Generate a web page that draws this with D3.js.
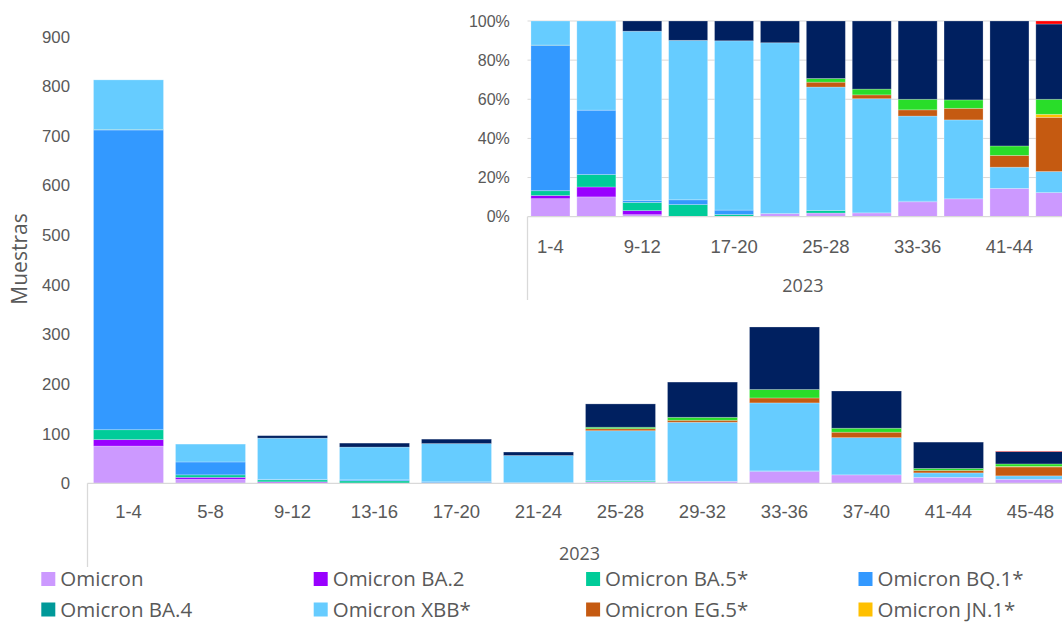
<!DOCTYPE html>
<html>
<head>
<meta charset="utf-8">
<script src="https://cdn.jsdelivr.net/npm/d3@7"></script>
<style>
    body { margin: 0; background: #fff; }
    svg { display: block; font-family: 'Open Sans', 'Noto Sans', sans-serif; }
    .lbl { fill: #595959; }
</style>
</head>
<body>
<svg id="chart" width="1062" height="624"></svg>
<script>
// semanas epidemiologicas agrupadas de 4 en 4
let categories = ['1-4', '5-8', '9-12', '13-16', '17-20', '21-24', '25-28', '29-32', '33-36', '37-40', '41-44', '45-48'];
let yearLabel = '2023';

// muestras por variante
let omicron  = [75, 8, 1, 0, 0, 1, 3, 4, 24, 17, 12, 8];
let ba2      = [13, 4, 2, 0, 0, 0, 0, 0, 0, 0, 0, 0];
let ba5      = [20, 5, 4, 5, 1, 0, 2, 0, 0, 0, 0, 0];
let bq1      = [604, 26, 1, 2, 2, 0, 0, 0, 1, 0, 0, 0];
let ba4      = [1, 0, 0, 0, 0, 0, 0, 0, 0, 0, 0, 0];
let xbb      = [100, 36, 83, 66, 77, 55, 101, 119, 137, 75, 9, 7];
let eg5      = [0, 0, 0, 0, 0, 0, 4, 4, 10, 11, 5, 18];
let jn1      = [0, 0, 0, 0, 0, 0, 0, 0, 0, 0, 0, 1];
let xbb116   = [0, 0, 0, 0, 0, 0, 3, 6, 17, 8, 4, 5];
let xbb19    = [0, 0, 5, 8, 9, 7, 47, 71, 126, 75, 53, 25];
let ba286    = [0, 0, 0, 0, 0, 0, 0, 0, 0, 0, 0, 1];

let seriesNames = ['Omicron', 'Omicron BA.2', 'Omicron BA.5*', 'Omicron BQ.1*', 'Omicron BA.4', 'Omicron XBB*',
    'Omicron EG.5*', 'Omicron JN.1*', 'Omicron XBB.1.16*', 'Omicron XBB.1.9*', 'Omicron BA.2.86*'];
let seriesValues = [omicron, ba2, ba5, bq1, ba4, xbb, eg5, jn1, xbb116, xbb19, ba286];
let seriesColors = ['#CC99FF', '#9900FF', '#00CC99', '#3399FF', '#009999', '#66CCFF',
    '#C55A11', '#FFC000', '#29DD29', '#002060', '#FF0000'];

let mainTicks = [0, 100, 200, 300, 400, 500, 600, 700, 800, 900];
let insetTicks = [0, 0.2, 0.4, 0.6, 0.8, 1];

// tabla para d3.stack
let rows = categories.map((c, i) => {
    let r = { cat: c };
    seriesNames.forEach((s, j) => { r[s] = seriesValues[j][i]; });
    return r;
});
let color = d3.scaleOrdinal().domain(seriesNames).range(seriesColors);

let svg = d3.select('#chart');

// ---------- grafico principal (muestras) ----------
let x = d3.scaleBand().domain(categories).range([87.5, 1071.5]).paddingInner(12 / 82).paddingOuter(6 / 82);
let y = d3.scaleLinear().domain([0, 900]).range([483.3, 36.7]);

let stacked = d3.stack().keys(seriesNames)(rows);

let main = svg.append('g');
main.selectAll('g.layer')
    .data(stacked)
    .enter()
    .append('g')
    .attr('class', 'layer')
    .attr('fill', d => color(d.key))
    .selectAll('rect')
    .data(d => d.filter(p => p[1] - p[0] > 0))
    .enter()
    .append('rect')
    .attr('x', d => x(d.data.cat))
    .attr('width', x.bandwidth())
    .attr('y', d => y(d[1]))
    .attr('height', d => y(d[0]) - y(d[1]))
    .attr('stroke', '#fff')
    .attr('stroke-opacity', 0.3)
    .attr('stroke-width', 0.8);

let yAxis = main.append('g')
    .attr('transform', 'translate(87.5,0)')
    .call(d3.axisLeft(y).tickValues(mainTicks).tickSize(0).tickPadding(17.5));
yAxis.select('.domain').remove();
yAxis.selectAll('text').attr('class', 'lbl').style('font-size', '16.8px').style('font-family', null);

let xAxis = main.append('g')
    .attr('transform', 'translate(0,483.3)')
    .call(d3.axisBottom(x).tickSize(0).tickPadding(22));
xAxis.select('.domain').remove();
xAxis.selectAll('text').attr('class', 'lbl').style('font-size', '18.5px').style('font-family', null);

main.append('line')
    .attr('x1', 87.5).attr('x2', 1062)
    .attr('y1', 483.3).attr('y2', 483.3)
    .attr('stroke', '#D9D9D9').attr('stroke-width', 1.3);
main.append('line')
    .attr('x1', 87.5).attr('x2', 87.5)
    .attr('y1', 483.3).attr('y2', 567)
    .attr('stroke', '#D9D9D9').attr('stroke-width', 1.3);

main.append('text')
    .attr('class', 'lbl')
    .attr('x', (x.range()[0] + x.range()[1]) / 2)
    .attr('y', 553.3)
    .attr('dy', '0.35em')
    .attr('text-anchor', 'middle')
    .style('font-size', '18px')
    .text(yearLabel);

main.append('text')
    .attr('class', 'lbl')
    .attr('transform', 'translate(20,259) rotate(-90)')
    .attr('dy', '0.35em')
    .attr('text-anchor', 'middle')
    .style('font-size', '21px')
    .text('Muestras');

// ---------- recuadro (porcentaje) ----------
let x2 = d3.scaleBand().domain(categories).range([527.5, 1078.3]).paddingInner(0.15).paddingOuter(0.075);
let y2 = d3.scaleLinear().domain([0, 1]).range([216.7, 21]);

let inset = svg.append('g');

inset.selectAll('line.grid')
    .data(insetTicks.slice(1))
    .enter()
    .append('line')
    .attr('class', 'grid')
    .attr('x1', 527.5).attr('x2', 1062)
    .attr('y1', d => y2(d)).attr('y2', d => y2(d))
    .attr('stroke', '#D9D9D9').attr('stroke-width', 1);

let expanded = d3.stack().keys(seriesNames).offset(d3.stackOffsetExpand)(rows);

inset.selectAll('g.layer')
    .data(expanded)
    .enter()
    .append('g')
    .attr('class', 'layer')
    .attr('fill', d => color(d.key))
    .selectAll('rect')
    .data(d => d.filter(p => p[1] - p[0] > 0))
    .enter()
    .append('rect')
    .attr('x', d => x2(d.data.cat))
    .attr('width', x2.bandwidth())
    .attr('y', d => y2(d[1]))
    .attr('height', d => y2(d[0]) - y2(d[1]))
    .attr('stroke', '#fff')
    .attr('stroke-opacity', 0.3)
    .attr('stroke-width', 0.8);

let y2Axis = inset.append('g')
    .attr('transform', 'translate(527.5,0)')
    .call(d3.axisLeft(y2).tickValues(insetTicks).tickFormat(d3.format('.0%')).tickSize(0).tickPadding(17.7));
y2Axis.select('.domain').remove();
y2Axis.selectAll('text').attr('class', 'lbl').style('font-size', '16px').style('font-family', null);

let x2Axis = inset.append('g')
    .attr('transform', 'translate(0,216.7)')
    .call(d3.axisBottom(x2).tickValues(categories.filter((c, i) => i % 2 == 0)).tickSize(0).tickPadding(22.8));
x2Axis.select('.domain').remove();
x2Axis.selectAll('text').attr('class', 'lbl').style('font-size', '18.5px').style('font-family', null);

inset.append('line')
    .attr('x1', 527.5).attr('x2', 1062)
    .attr('y1', 216.7).attr('y2', 216.7)
    .attr('stroke', '#D9D9D9').attr('stroke-width', 1.3);
inset.append('line')
    .attr('x1', 527.5).attr('x2', 527.5)
    .attr('y1', 216.7).attr('y2', 300)
    .attr('stroke', '#D9D9D9').attr('stroke-width', 1.3);

inset.append('text')
    .attr('class', 'lbl')
    .attr('x', (x2.range()[0] + x2.range()[1]) / 2)
    .attr('y', 286)
    .attr('dy', '0.35em')
    .attr('text-anchor', 'middle')
    .style('font-size', '18px')
    .text(yearLabel);

// ---------- leyenda: solo las dos filas que caben en el lienzo ----------
let legendNames = seriesNames.slice(0, 8);
let legend = svg.append('g');
let item = legend.selectAll('g')
    .data(legendNames)
    .enter()
    .append('g')
    .attr('transform', (d, i) => 'translate(' + (41.3 + (i % 4) * 272.4) + ',' + (579 + Math.floor(i / 4) * 30.5) + ')');
item.append('rect')
    .attr('x', 0)
    .attr('y', -7)
    .attr('width', 14)
    .attr('height', 14)
    .attr('fill', d => color(d));
item.append('text')
    .attr('class', 'lbl')
    .attr('x', 19)
    .attr('dy', '0.35em')
    .style('font-size', '20.5px')
    .text(d => d);
</script>
</body>
</html>
